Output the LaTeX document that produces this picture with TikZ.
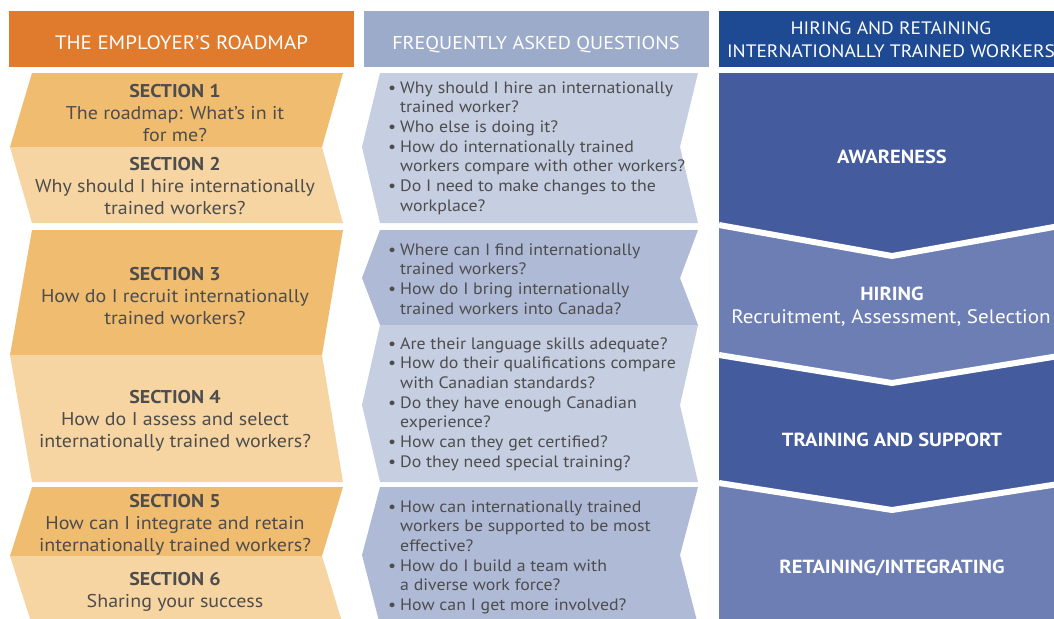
\documentclass[tikz,border=0pt]{standalone}
\usepackage{fontspec}
\setmainfont{PT Sans}[FakeStretch=1.08]
\definecolor{orangeH}{HTML}{E07B2E}
\definecolor{secDark}{HTML}{F0BC6F}
\definecolor{secLight}{HTML}{F6D5A2}
\definecolor{faqH}{HTML}{9DABCB}
\definecolor{faqLight}{HTML}{C6CEE2}
\definecolor{faqDark}{HTML}{AFBAD6}
\definecolor{blueH}{HTML}{1D4A93}
\definecolor{blueDark}{HTML}{445C9E}
\definecolor{blueLight}{HTML}{6C7EB3}
\definecolor{txt}{HTML}{4D4D4D}
\newcommand\clines[1]{\begin{tabular}[t]{@{}c@{}}#1\end{tabular}}
\newcommand\qlines[1]{\begin{tabular}[t]{@{}l@{}l@{}}#1\end{tabular}}
\newcommand\bul{\makebox[12pt][l]{\textbullet}&}
\begin{document}
\begin{tikzpicture}[x=1pt,y=-1pt,
  sectxt/.style={anchor=base,inner sep=0,text=txt,font=\fontsize{18.5}{22}\selectfont},
  faqtxt/.style={anchor=base west,inner sep=0,text=txt,font=\fontsize{16.5}{19.7}\selectfont},
  headtxt/.style={anchor=base,inner sep=0,text=white,font=\fontsize{19.4}{22}\selectfont},
  bluetxt/.style={anchor=base,inner sep=0,text=white,font=\fontsize{18}{22}\selectfont},
  bluebold/.style={bluetxt,font=\fontsize{19}{22}\selectfont\bfseries},
  gap/.style={draw=white,line width=6pt}]
\useasboundingbox (0,0) rectangle (1054,618);
\clip (0,0) rectangle (1054,618);
% headers
\fill[orangeH] (9,11) rectangle (354,67);
\fill[faqH] (364,11) rectangle (709,67);
\fill[blueH] (719,11) rectangle (1065,67);
% left column
\fill[secDark] (32,73)--(343,73)--(322,147)--(10,147)--cycle;
\fill[secLight] (10,147)--(322,147)--(343,223)--(32,223)--cycle;
\fill[secDark] (32,230)--(343,230)--(322,355)--(10,355)--cycle;
\fill[secLight] (10,355)--(322,355)--(343,482)--(32,482)--cycle;
\fill[secDark] (32,487)--(343,487)--(322,556)--(10,556)--cycle;
\fill[secLight] (10,556)--(322,556)--(343,625)--(32,625)--cycle;
% middle column
\fill[faqLight] (380,73)--(698,73)--(680,147)--(698,223)--(380,223)--(362,147)--cycle;
\fill[faqDark] (380,230)--(698,230)--(680,278)--(698,325)--(380,325)--(362,278)--cycle;
\fill[faqLight] (380,325)--(698,325)--(680,405)--(698,482)--(380,482)--(362,405)--cycle;
\fill[faqDark] (380,487)--(698,487)--(680,555)--(698,625)--(380,625)--(362,555)--cycle;
% right column
\fill[blueLight] (719,73) rectangle (1065,625);
\fill[blueDark] (719,73)--(1065,73)--(1065,225)--(892,256)--(719,225)--cycle;
\fill[blueDark] (719,355)--(892,383)--(1065,355)--(1065,483)--(892,510)--(719,483)--cycle;
\draw[gap] (719,225)--(892,256)--(1065,225);
\draw[gap] (719,355)--(892,383)--(1065,355);
\draw[gap] (719,483)--(892,510)--(1065,483);
% header texts
\node[headtxt] (h1) at (181.5,49) {THE EMPLOYER’S ROADMAP};
\node[headtxt,font=\fontsize{18.6}{22}\selectfont] (h2) at (536,49) {FREQUENTLY ASKED QUESTIONS};
\node[bluetxt] (h3) at (891,35) {\clines{HIRING AND RETAINING\\INTERNATIONALLY TRAINED WORKERS}};
% sections
\node[sectxt] (s1) at (175,97) {\clines{\textbf{SECTION 1}\\The roadmap: What’s in it\\for me?}};
\node[sectxt] (s2) at (175,170) {\clines{\textbf{SECTION 2}\\Why should I hire internationally\\trained workers?}};
\node[sectxt] (s3) at (175,280) {\clines{\textbf{SECTION 3}\\How do I recruit internationally\\trained workers?}};
\node[sectxt] (s4) at (175,403) {\clines{\textbf{SECTION 4}\\How do I assess and select\\internationally trained workers?}};
\node[sectxt] (s5) at (175,507) {\clines{\textbf{SECTION 5}\\How can I integrate and retain\\internationally trained workers?}};
\node[sectxt] (s6) at (175,585) {\clines{\textbf{SECTION 6}\\Sharing your success}};
% FAQ
\node[faqtxt] (q1) at (388,93) {\qlines{\bul Why should I hire an internationally\\ & trained worker?\\ \bul Who else is doing it?\\ \bul How do internationally trained\\ & workers compare with other workers?\\ \bul Do I need to make changes to the\\ & workplace?}};
\node[faqtxt] (q3) at (388,255) {\qlines{\bul Where can I find internationally\\ & trained workers?\\ \bul How do I bring internationally\\ & trained workers into Canada?}};
\node[faqtxt] (q4) at (388,349) {\qlines{\bul Are their language skills adequate?\\ \bul How do their qualifications compare\\ & with Canadian standards?\\ \bul Do they have enough Canadian\\ & experience?\\ \bul How can they get certified?\\ \bul Do they need special training?}};
\node[faqtxt] (q5) at (388,512) {\qlines{\bul How can internationally trained\\ & workers be supported to be most\\ & effective?\\ \bul How do I build a team with\\ & a diverse work force?\\ \bul How can I get more involved?}};
% right labels
\node[bluebold] (r1) at (892,163) {AWARENESS};
\node[bluebold] (r2) at (892,300) {HIRING};
\node[bluetxt,font=\fontsize{19.5}{22}\selectfont] (r2b) at (891,323) {Recruitment, Assessment, Selection};
\node[bluebold] (r3) at (892,446) {TRAINING AND SUPPORT};
\node[bluebold] (r4) at (892,573) {RETAINING/INTEGRATING};
\end{tikzpicture}
\end{document}
